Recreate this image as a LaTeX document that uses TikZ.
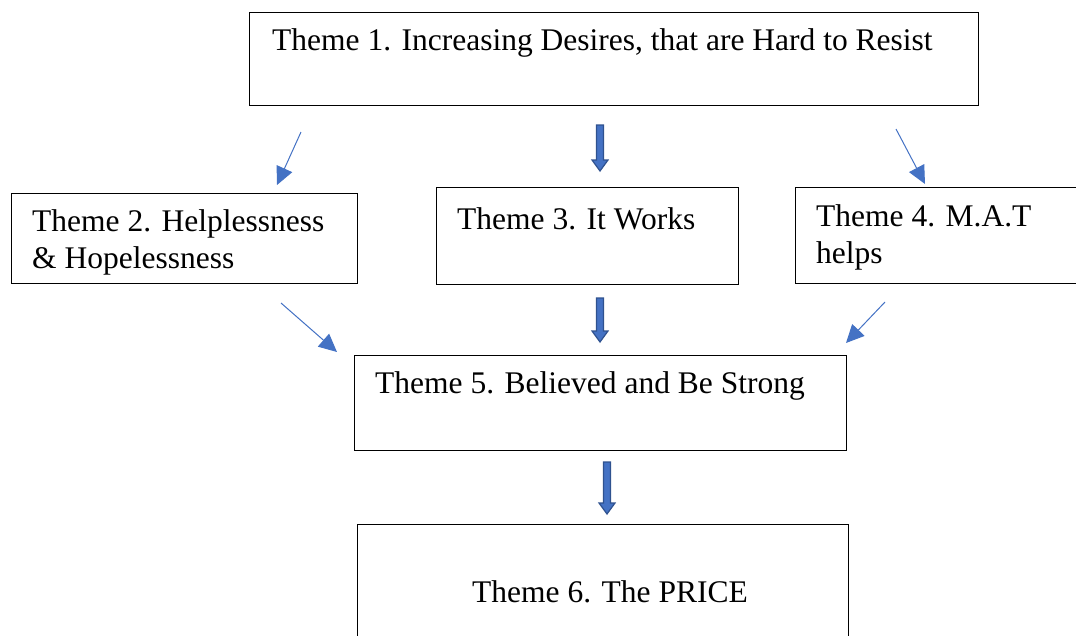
\documentclass[tikz,border=0pt]{standalone}
\usepackage{fontspec}
\setmainfont{Liberation Serif}
\usetikzlibrary{arrows.meta}
\definecolor{arrowblue}{HTML}{4472C4}
\definecolor{arrowedge}{HTML}{2F528F}
\tikzset{
  box/.style={draw=black, line width=1.2pt, inner sep=0pt, anchor=north west},
  txt/.style={font=\fontsize{31.5}{37}\selectfont, anchor=west, inner sep=0pt, align=left},
  thin/.style={draw=arrowblue, line width=1pt, -{Triangle[length=18pt,width=17pt]}},
  blockarrow/.style={fill=arrowblue, draw=arrowedge, line width=1.2pt}
}
\newcommand{\blockdown}[3]{% x, ytop, ybottom
  \draw[blockarrow] (#1-3.5,#2) -- (#1+3.5,#2) -- (#1+3.5,#3-11) -- (#1+8,#3-11) -- (#1,#3) -- (#1-8,#3-11) -- (#1-3.5,#3-11) -- cycle;}
\begin{document}
\begin{tikzpicture}[x=1pt,y=-1pt]
\useasboundingbox (0,0) rectangle (1076,635);
\clip (0,0) rectangle (1076,635);
% boxes
\node[box, minimum width=729pt, minimum height=93pt] (b1) at (249,12) {};
\node[box, minimum width=346pt, minimum height=90pt] (b2) at (11,193) {};
\node[box, minimum width=302pt, minimum height=97pt] (b3) at (436,187) {};
\node[box, minimum width=300pt, minimum height=96pt] (b4) at (795,187) {};
\node[box, minimum width=492pt, minimum height=95pt] (b5) at (354,355) {};
\node[box, minimum width=491pt, minimum height=130pt] (b6) at (357,524) {};
% texts
\node[txt] (t1) at (272,43) {Theme 1. Increasing Desires, that are Hard to Resist};
\node[txt] (t2) at (32,242) {Theme 2. Helplessness\\\& Hopelessness};
\node[txt] (t3) at (457,219) {Theme 3. It Works};
\node[txt] (t4) at (816,237) {Theme 4. M.A.T\\helps};
\node[txt] (t5) at (375,386) {Theme 5. Believed and Be Strong};
\node[txt] (t6) at (472,592) {Theme 6. The PRICE};
% thin arrows
\coordinate (a1s) at (301,132); \coordinate (a1e) at (277,185);
\coordinate (a2s) at (896,129); \coordinate (a2e) at (925,184);
\coordinate (a3s) at (281,303); \coordinate (a3e) at (337,352);
\coordinate (a4s) at (885,302); \coordinate (a4e) at (846,343);
\draw[thin] (a1s) -- (a1e);
\draw[thin] (a2s) -- (a2e);
\draw[thin] (a3s) -- (a3e);
\draw[thin] (a4s) -- (a4e);
% block arrows
\blockdown{600}{125}{171}
\blockdown{600}{298}{342}
\blockdown{607}{462}{514}
\end{tikzpicture}
\end{document}
